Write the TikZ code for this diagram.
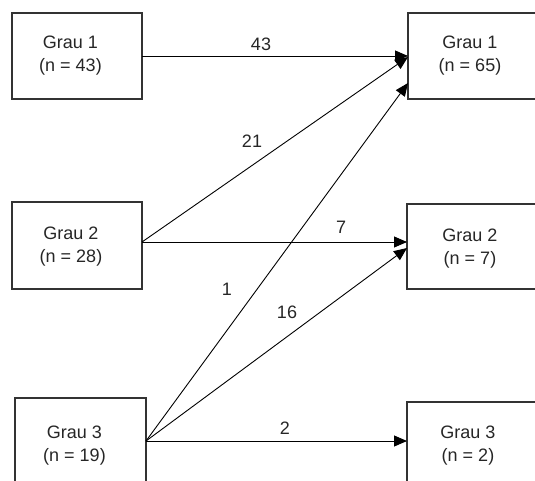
\documentclass[tikz,border=0pt]{standalone}
\usepackage{fontspec}
\setmainfont{Liberation Sans}
\usetikzlibrary{arrows.meta}
\begin{document}
\begin{tikzpicture}[x=1pt,y=-1pt,
  box/.style={draw=black!80, line width=1.1pt, minimum width=130pt, minimum height=86pt, inner sep=0pt, outer sep=0pt},
  txt/.style={font=\fontsize{18}{23}\selectfont, align=center, text=black!85, inner sep=0pt},
  lab/.style={font=\fontsize{18}{22}\selectfont, text=black!85, inner sep=0pt},
  arr/.style={line width=0.9pt, -{Triangle[length=13pt,width=11pt]}}]
\path[use as bounding box, clip] (0,0) rectangle (535,481);
% boxes
\node[box] (L1) at (77,56) {};
\node[box, minimum height=87pt] (L2) at (77,245.5) {};
\node[box, minimum width=131pt] (L3) at (80.5,441) {};
\node[box] (R1) at (473,56) {};
\node[box, minimum height=85pt] (R2) at (472,246.5) {};
\node[box] (R3) at (472,445) {};
% box texts
\node[txt] (tL1) at (70.5,56) {Grau 1\\(n = 43)};
\node[txt] (tL2) at (71,247) {Grau 2\\(n = 28)};
\node[txt] (tL3) at (74.5,446) {Grau 3\\(n = 19)};
\node[txt] (tR1) at (470,56) {Grau 1\\(n = 65)};
\node[txt] (tR2) at (470,248.5) {Grau 2\\(n = 7)};
\node[txt] (tR3) at (468,446) {Grau 3\\(n = 2)};
% connectors
\draw[arr] (L1.east) -- (R1.west);
\draw[arr] ([yshift=3.5pt]L2.east) -- ([yshift=-1pt]R1.west);
\draw[arr] ([yshift=3.5pt]L2.east) -- ([yshift=4.5pt]R2.west);
\draw[arr] (L3.east) -- ([yshift=-27pt]R1.west);
\draw[arr] (L3.east) -- ([yshift=-1.5pt]R2.west);
\draw[arr] (L3.east) -- ([yshift=4pt]R3.west);
% labels
\node[lab] (n43) at (261,44) {43};
\node[lab] (n21) at (252,141) {21};
\node[lab] (n7) at (341,227) {7};
\node[lab] (n1) at (227,289) {1};
\node[lab] (n16) at (287,312) {16};
\node[lab] (n2) at (285,428) {2};
\end{tikzpicture}
\end{document}
